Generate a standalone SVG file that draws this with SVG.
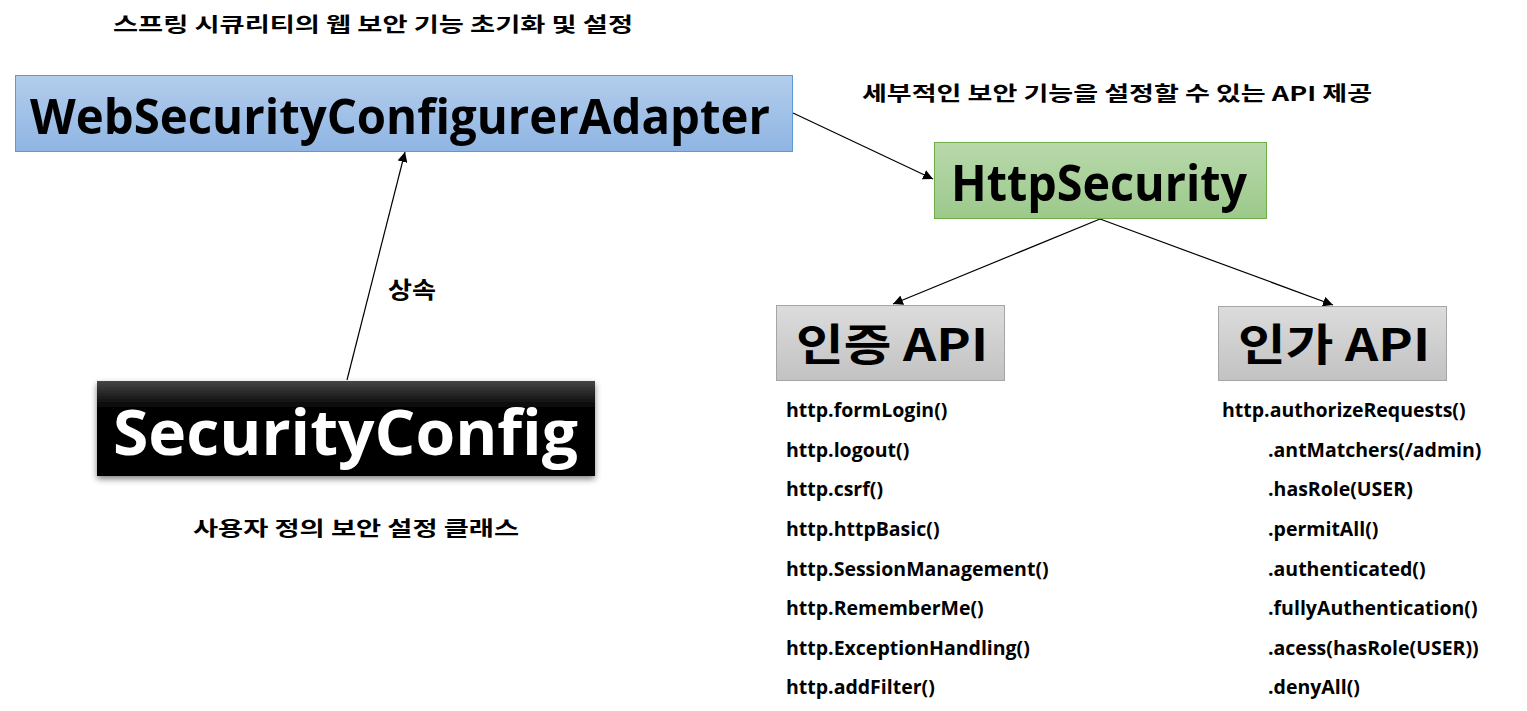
<svg xmlns="http://www.w3.org/2000/svg" width="1527" height="711" viewBox="0 0 1527 711">
<defs>
<linearGradient id="gBlue" x1="0" y1="0" x2="0" y2="1"><stop offset="0" stop-color="#b3cdec"/><stop offset="1" stop-color="#8fb5e3"/></linearGradient>
<linearGradient id="gGreen" x1="0" y1="0" x2="0" y2="1"><stop offset="0" stop-color="#b8d9ab"/><stop offset="1" stop-color="#9cc98b"/></linearGradient>
<linearGradient id="gGray" x1="0" y1="0" x2="0" y2="1"><stop offset="0" stop-color="#dcdcdc"/><stop offset="1" stop-color="#c2c2c2"/></linearGradient>
<linearGradient id="gBlack" x1="0" y1="0" x2="0" y2="1"><stop offset="0" stop-color="#454545"/><stop offset="0.3" stop-color="#000"/><stop offset="1" stop-color="#000"/></linearGradient>
<filter id="shadow" x="-5%" y="-10%" width="110%" height="130%"><feGaussianBlur in="SourceAlpha" stdDeviation="3"/><feOffset dx="0" dy="3"/><feComponentTransfer><feFuncA type="linear" slope="0.5"/></feComponentTransfer><feMerge><feMergeNode/><feMergeNode in="SourceGraphic"/></feMerge></filter>
<marker id="arr" viewBox="0 0 10 10" refX="10" refY="5" markerWidth="10" markerHeight="10" markerUnits="userSpaceOnUse" orient="auto"><path d="M0,0 L10,5 L0,10 z" fill="#000"/></marker>
</defs>
<style>
text{font-family:"Segoe UI","Open Sans","Noto Sans","Noto Sans CJK KR",sans-serif;font-weight:bold;fill:#000}
.lbl{font-size:20px}
.lst{font-size:19.5px}
.kr{font-family:"Noto Sans CJK KR","Noto Sans",sans-serif}
.conn line{stroke:#000;stroke-width:1.2;marker-end:url(#arr)}
</style>
<rect width="1527" height="711" fill="#fff"/>
<text class="lbl kr" x="113" y="32" textLength="520" lengthAdjust="spacingAndGlyphs">스프링 시큐리티의 웹 보안 기능 초기화 및 설정</text>
<text class="lbl kr" x="862" y="101" textLength="510" lengthAdjust="spacingAndGlyphs">세부적인 보안 기능을 설정할 수 있는 API 제공</text>
<text class="kr" x="388" y="298" font-size="23" textLength="48" lengthAdjust="spacingAndGlyphs">상속</text>
<text class="lbl kr" x="193" y="536" textLength="326" lengthAdjust="spacingAndGlyphs">사용자 정의 보안 설정 클래스</text>
<g class="conn">
<line x1="347" y1="380" x2="405" y2="152"/>
<line x1="793" y1="113" x2="933" y2="179"/>
<line x1="1100" y1="219" x2="893" y2="304"/>
<line x1="1100" y1="219" x2="1333" y2="305"/>
</g>
<g id="wsca">
<rect x="15.5" y="75.5" width="777" height="76" fill="url(#gBlue)" stroke="#5b9bd5" stroke-width="1"/>
<text x="30" y="134" font-size="49" textLength="740" lengthAdjust="spacingAndGlyphs">WebSecurityConfigurerAdapter</text>
</g>
<g id="httpsecurity">
<rect x="934.5" y="142.5" width="332" height="76" fill="url(#gGreen)" stroke="#70ad47" stroke-width="1"/>
<text x="951" y="201" font-size="50" textLength="296" lengthAdjust="spacingAndGlyphs">HttpSecurity</text>
</g>
<g id="authn">
<rect x="776.5" y="305.5" width="228" height="75" fill="url(#gGray)" stroke="#a5a5a5" stroke-width="1"/>
<text class="kr" x="796" y="361" font-size="44" textLength="192" lengthAdjust="spacingAndGlyphs">인증 API</text>
</g>
<g id="authz">
<rect x="1218.5" y="306.5" width="228" height="74" fill="url(#gGray)" stroke="#a5a5a5" stroke-width="1"/>
<text class="kr" x="1238" y="361" font-size="44" textLength="192" lengthAdjust="spacingAndGlyphs">인가 API</text>
</g>
<g id="securityconfig" filter="url(#shadow)">
<rect x="97" y="381" width="498" height="95" fill="url(#gBlack)"/>
<text x="113" y="455" font-size="62" style="fill:#fff" textLength="465" lengthAdjust="spacingAndGlyphs">SecurityConfig</text>
</g>
<g id="authn-list">
<text class="lst" x="786" y="417">http.formLogin()</text>
<text class="lst" x="786" y="457">http.logout()</text>
<text class="lst" x="786" y="496">http.csrf()</text>
<text class="lst" x="786" y="536">http.httpBasic()</text>
<text class="lst" x="786" y="576">http.SessionManagement()</text>
<text class="lst" x="786" y="615">http.RememberMe()</text>
<text class="lst" x="786" y="655">http.ExceptionHandling()</text>
<text class="lst" x="786" y="694">http.addFilter()</text>
</g>
<g id="authz-list">
<text class="lst" x="1222" y="417">http.authorizeRequests()</text>
<text class="lst" x="1268" y="457">.antMatchers(/admin)</text>
<text class="lst" x="1268" y="496">.hasRole(USER)</text>
<text class="lst" x="1268" y="536">.permitAll()</text>
<text class="lst" x="1268" y="576">.authenticated()</text>
<text class="lst" x="1268" y="615">.fullyAuthentication()</text>
<text class="lst" x="1268" y="655">.acess(hasRole(USER))</text>
<text class="lst" x="1268" y="694">.denyAll()</text>
</g>
</svg>
